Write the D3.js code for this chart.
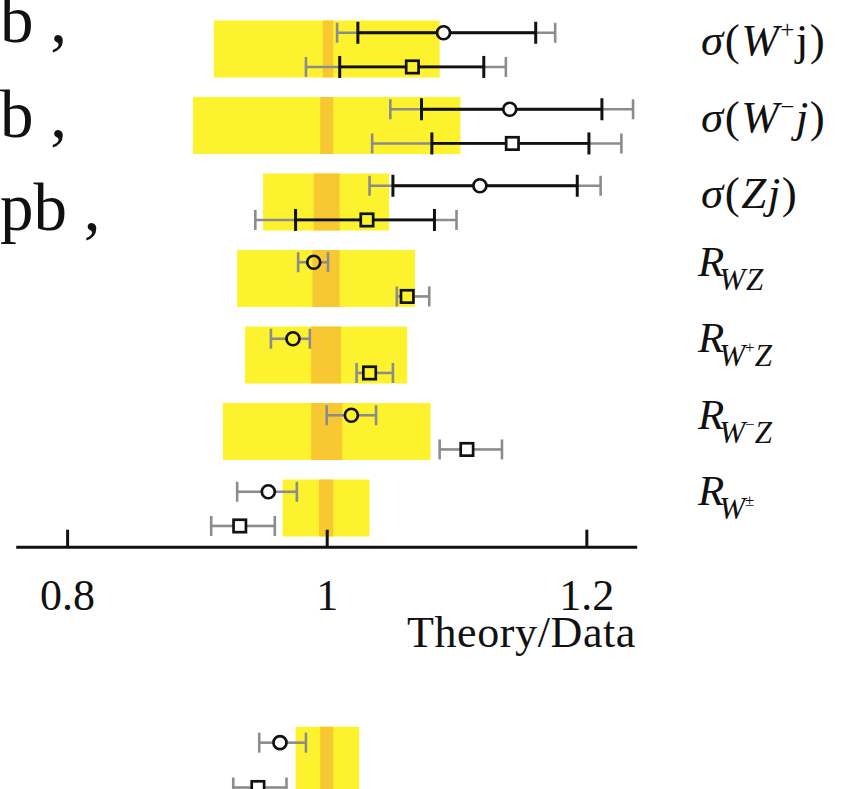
<!DOCTYPE html>
<html>
<head>
<meta charset="utf-8">
<script src="https://cdn.jsdelivr.net/npm/d3@7"></script>
<style>
  html, body { margin: 0; padding: 0; background: #fff; }
  svg { display: block; font-family: "Liberation Serif", "Times New Roman", serif; }
</style>
</head>
<body>
<svg id="chart" width="845" height="789"></svg>
<script>
// ---------- data ----------
const categories = ["σ(W⁺j)", "σ(W⁻j)", "σ(Zj)", "R_WZ", "R_W⁺Z", "R_W⁻Z", "R_W±"];

// theory band (yellow) and PDF band (orange), in Theory/Data
const theoryLo = [0.913, 0.897, 0.951, 0.931, 0.937, 0.920, 0.966];
const theoryHi = [1.087, 1.103, 1.048, 1.068, 1.062, 1.080, 1.033];
const pdfLo    = [0.997, 0.995, 0.990, 0.989, 0.988, 0.988, 0.994];
const pdfHi    = [1.005, 1.005, 1.010, 1.010, 1.011, 1.012, 1.005];

// circle measurement
const circleVal    = [1.090, 1.141, 1.118, 0.990, 0.974, 1.019, 0.955];
const circleStatLo = [1.024, 1.073, 1.051, null, null, null, null];
const circleStatHi = [1.161, 1.212, 1.193, null, null, null, null];
const circleTotLo  = [1.008, 1.049, 1.033, 0.978, 0.957, 1.000, 0.931];
const circleTotHi  = [1.176, 1.236, 1.211, 1.001, 0.987, 1.038, 0.977];

// square measurement
const squareVal    = [1.066, 1.143, 1.031, 1.062, 1.033, 1.108, 0.933];
const squareStatLo = [1.010, 1.081, 0.976, null, null, null, null];
const squareStatHi = [1.121, 1.202, 1.083, null, null, null, null];
const squareTotLo  = [0.984, 1.035, 0.945, 1.054, 1.023, 1.087, 0.911];
const squareTotHi  = [1.138, 1.227, 1.100, 1.079, 1.051, 1.135, 0.960];

// partially visible panel below
const lowerCategories = ["lower"];
const lowerTheoryLo = [0.976], lowerTheoryHi = [1.025];
const lowerPdfLo = [0.995], lowerPdfHi = [1.005];
const lowerCircleVal = [0.964], lowerCircleTotLo = [0.948], lowerCircleTotHi = [0.984];
const lowerSquareVal = [0.947], lowerSquareTotLo = [0.928], lowerSquareTotHi = [0.969];

// clipped text from the left of the figure
const leftTexts = ["b ,", "b ,", "pb ,"];

const xTicks = [0.8, 1, 1.2];
const xTickLabels = ["0.8", "1", "1.2"];
const xTitle = "Theory/Data";

// ---------- drawing ----------
const svg = d3.select("#chart");
const YELLOW = "#fdf22e", ORANGE = "#f8c832", GREY = "#8c8c8c", BLACK = "#111";

const x = d3.scaleLinear().domain([0.7604, 1.2388]).range([15.7, 636.7]);
const y = d3.scaleBand().domain(categories).range([10.75, 546.25])
  .paddingInner(0.255).paddingOuter(0.1275);
const yLower = d3.scaleBand().domain(lowerCategories).range([726.7, 802.7]);

function drawPanel(g, cats, ys, tLo, tHi, pLo, pHi, series) {
  const bw = ys.bandwidth();
  g.selectAll("rect.theory").data(cats).join("rect").attr("class", "theory")
    .attr("x", (d, i) => x(tLo[i])).attr("width", (d, i) => x(tHi[i]) - x(tLo[i]))
    .attr("y", d => ys(d)).attr("height", bw).attr("fill", YELLOW);
  g.selectAll("rect.pdf").data(cats).join("rect").attr("class", "pdf")
    .attr("x", (d, i) => x(pLo[i])).attr("width", (d, i) => x(pHi[i]) - x(pLo[i]))
    .attr("y", d => ys(d)).attr("height", bw).attr("fill", ORANGE);

  series.forEach(s => {
    cats.forEach((c, i) => {
      const cy = ys(c) + bw * s.frac;
      const cx = x(s.val[i]);
      const half = 7;
      const eg = g.append("g");
      // total (grey) bar
      const tl = x(s.totLo[i]), th = x(s.totHi[i]);
      [[tl, cx - half], [cx + half, th]].filter(p => p[1] > p[0]).forEach(p =>
        eg.append("line").attr("x1", p[0]).attr("x2", p[1])
          .attr("y1", cy).attr("y2", cy).attr("stroke", GREY).attr("stroke-width", 2.6));
      [tl, th].forEach(xx => eg.append("line").attr("x1", xx).attr("x2", xx)
        .attr("y1", cy - 10).attr("y2", cy + 10).attr("stroke", GREY).attr("stroke-width", 2.6));
      // stat (black) bar
      if (s.statLo && s.statLo[i] != null) {
        const sl = x(s.statLo[i]), sh = x(s.statHi[i]);
        [[sl, cx - half], [cx + half, sh]].filter(p => p[1] > p[0]).forEach(p =>
          eg.append("line").attr("x1", p[0]).attr("x2", p[1])
            .attr("y1", cy).attr("y2", cy).attr("stroke", BLACK).attr("stroke-width", 2.8));
        [sl, sh].forEach(xx => eg.append("line").attr("x1", xx).attr("x2", xx)
          .attr("y1", cy - 11).attr("y2", cy + 11).attr("stroke", BLACK).attr("stroke-width", 3));
      }
      if (s.shape === "circle") {
        eg.append("circle").attr("cx", cx).attr("cy", cy).attr("r", 6.5)
          .attr("fill", "none").attr("stroke", BLACK).attr("stroke-width", 2.7);
      } else {
        eg.append("rect").attr("x", cx - 6.2).attr("y", cy - 6.2).attr("width", 12.4).attr("height", 12.4)
          .attr("fill", "none").attr("stroke", BLACK).attr("stroke-width", 2.7);
      }
    });
  });
}

drawPanel(svg.append("g"), categories, y, theoryLo, theoryHi, pdfLo, pdfHi, [
  { shape: "circle", frac: 0.215, val: circleVal, statLo: circleStatLo, statHi: circleStatHi, totLo: circleTotLo, totHi: circleTotHi },
  { shape: "square", frac: 0.815, val: squareVal, statLo: squareStatLo, statHi: squareStatHi, totLo: squareTotLo, totHi: squareTotHi }
]);
drawPanel(svg.append("g"), lowerCategories, yLower, lowerTheoryLo, lowerTheoryHi, lowerPdfLo, lowerPdfHi, [
  { shape: "circle", frac: 0.21, val: lowerCircleVal, totLo: lowerCircleTotLo, totHi: lowerCircleTotHi },
  { shape: "square", frac: 0.80, val: lowerSquareVal, totLo: lowerSquareTotLo, totHi: lowerSquareTotHi }
]);

// axis
const axisY = 546.7;
const axis = d3.axisBottom(x).tickValues(xTicks).tickFormat((d, i) => xTickLabels[i])
  .tickSizeInner(-17).tickSizeOuter(0).tickPadding(32);
const ag = svg.append("g").attr("transform", `translate(0,${axisY})`).call(axis);
ag.select(".domain").attr("stroke", BLACK).attr("stroke-width", 3);
ag.selectAll(".tick line").attr("stroke", BLACK).attr("stroke-width", 3);
ag.selectAll(".tick text").attr("fill", BLACK)
  .style("font-family", '"Liberation Serif", serif').style("font-size", "44px");
svg.append("text").attr("x", 636).attr("y", 647).attr("text-anchor", "end")
  .style("font-size", "44px").style("letter-spacing", "0.6px").attr("fill", BLACK).text(xTitle);

// left clipped texts
const leftBaselines = [42, 137, 230];
leftTexts.forEach((t, i) => svg.append("text").attr("x", 0).attr("y", leftBaselines[i])
  .style("font-size", "67px").attr("fill", BLACK).text(t));

// right labels
const bw = y.bandwidth();
function sigmaLabel(i, parts) {
  const cy = y(categories[i]) + bw / 2;
  const t = svg.append("text").attr("x", 701).attr("y", cy + 6).style("font-size", "45px")
    .style("letter-spacing", "1.5px").attr("fill", BLACK);
  parts.forEach(p => {
    const ts = t.append("tspan").text(p.t);
    if (p.it) ts.style("font-style", "italic");
    if (p.sup) ts.style("font-size", "25px").attr("dy", -17);
    if (p.after) ts.attr("dy", 17);
  });
}
sigmaLabel(0, [{ t: "σ", it: 1 }, { t: "(" }, { t: "W", it: 1 }, { t: "+", sup: 1 }, { t: "j", after: 1 }, { t: ")" }]);
sigmaLabel(1, [{ t: "σ", it: 1 }, { t: "(" }, { t: "W", it: 1 }, { t: "−", sup: 1 }, { t: "j", it: 1, after: 1 }, { t: ")" }]);
sigmaLabel(2, [{ t: "σ", it: 1 }, { t: "(" }, { t: "Zj", it: 1 }, { t: ")" }]);

function rLabel(i, subParts) {
  const cy = y(categories[i]) + bw / 2;
  const t = svg.append("text").attr("x", 698).attr("y", cy - 3).style("font-size", "43px")
    .style("font-style", "italic").attr("fill", BLACK);
  t.append("tspan").text("R");
  subParts.forEach((p, k) => {
    const ts = t.append("tspan").text(p.t).style("font-size", p.sup ? "17px" : "31px")
      .style("letter-spacing", p.sup ? "0px" : "1px");
    let dy = 0;
    if (k === 0) { dy = 14; ts.attr("dx", -5); }
    if (p.sup) { dy += -13; ts.attr("dx", -1); }
    if (k > 0 && subParts[k - 1].sup) dy += 13;
    ts.attr("dy", dy);
    if (p.sup) ts.style("font-style", "normal");
  });
}
rLabel(3, [{ t: "WZ" }]);
rLabel(4, [{ t: "W" }, { t: "+", sup: 1 }, { t: "Z" }]);
rLabel(5, [{ t: "W" }, { t: "−", sup: 1 }, { t: "Z" }]);
rLabel(6, [{ t: "W" }, { t: "±", sup: 1 }]);
</script>
</body>
</html>
